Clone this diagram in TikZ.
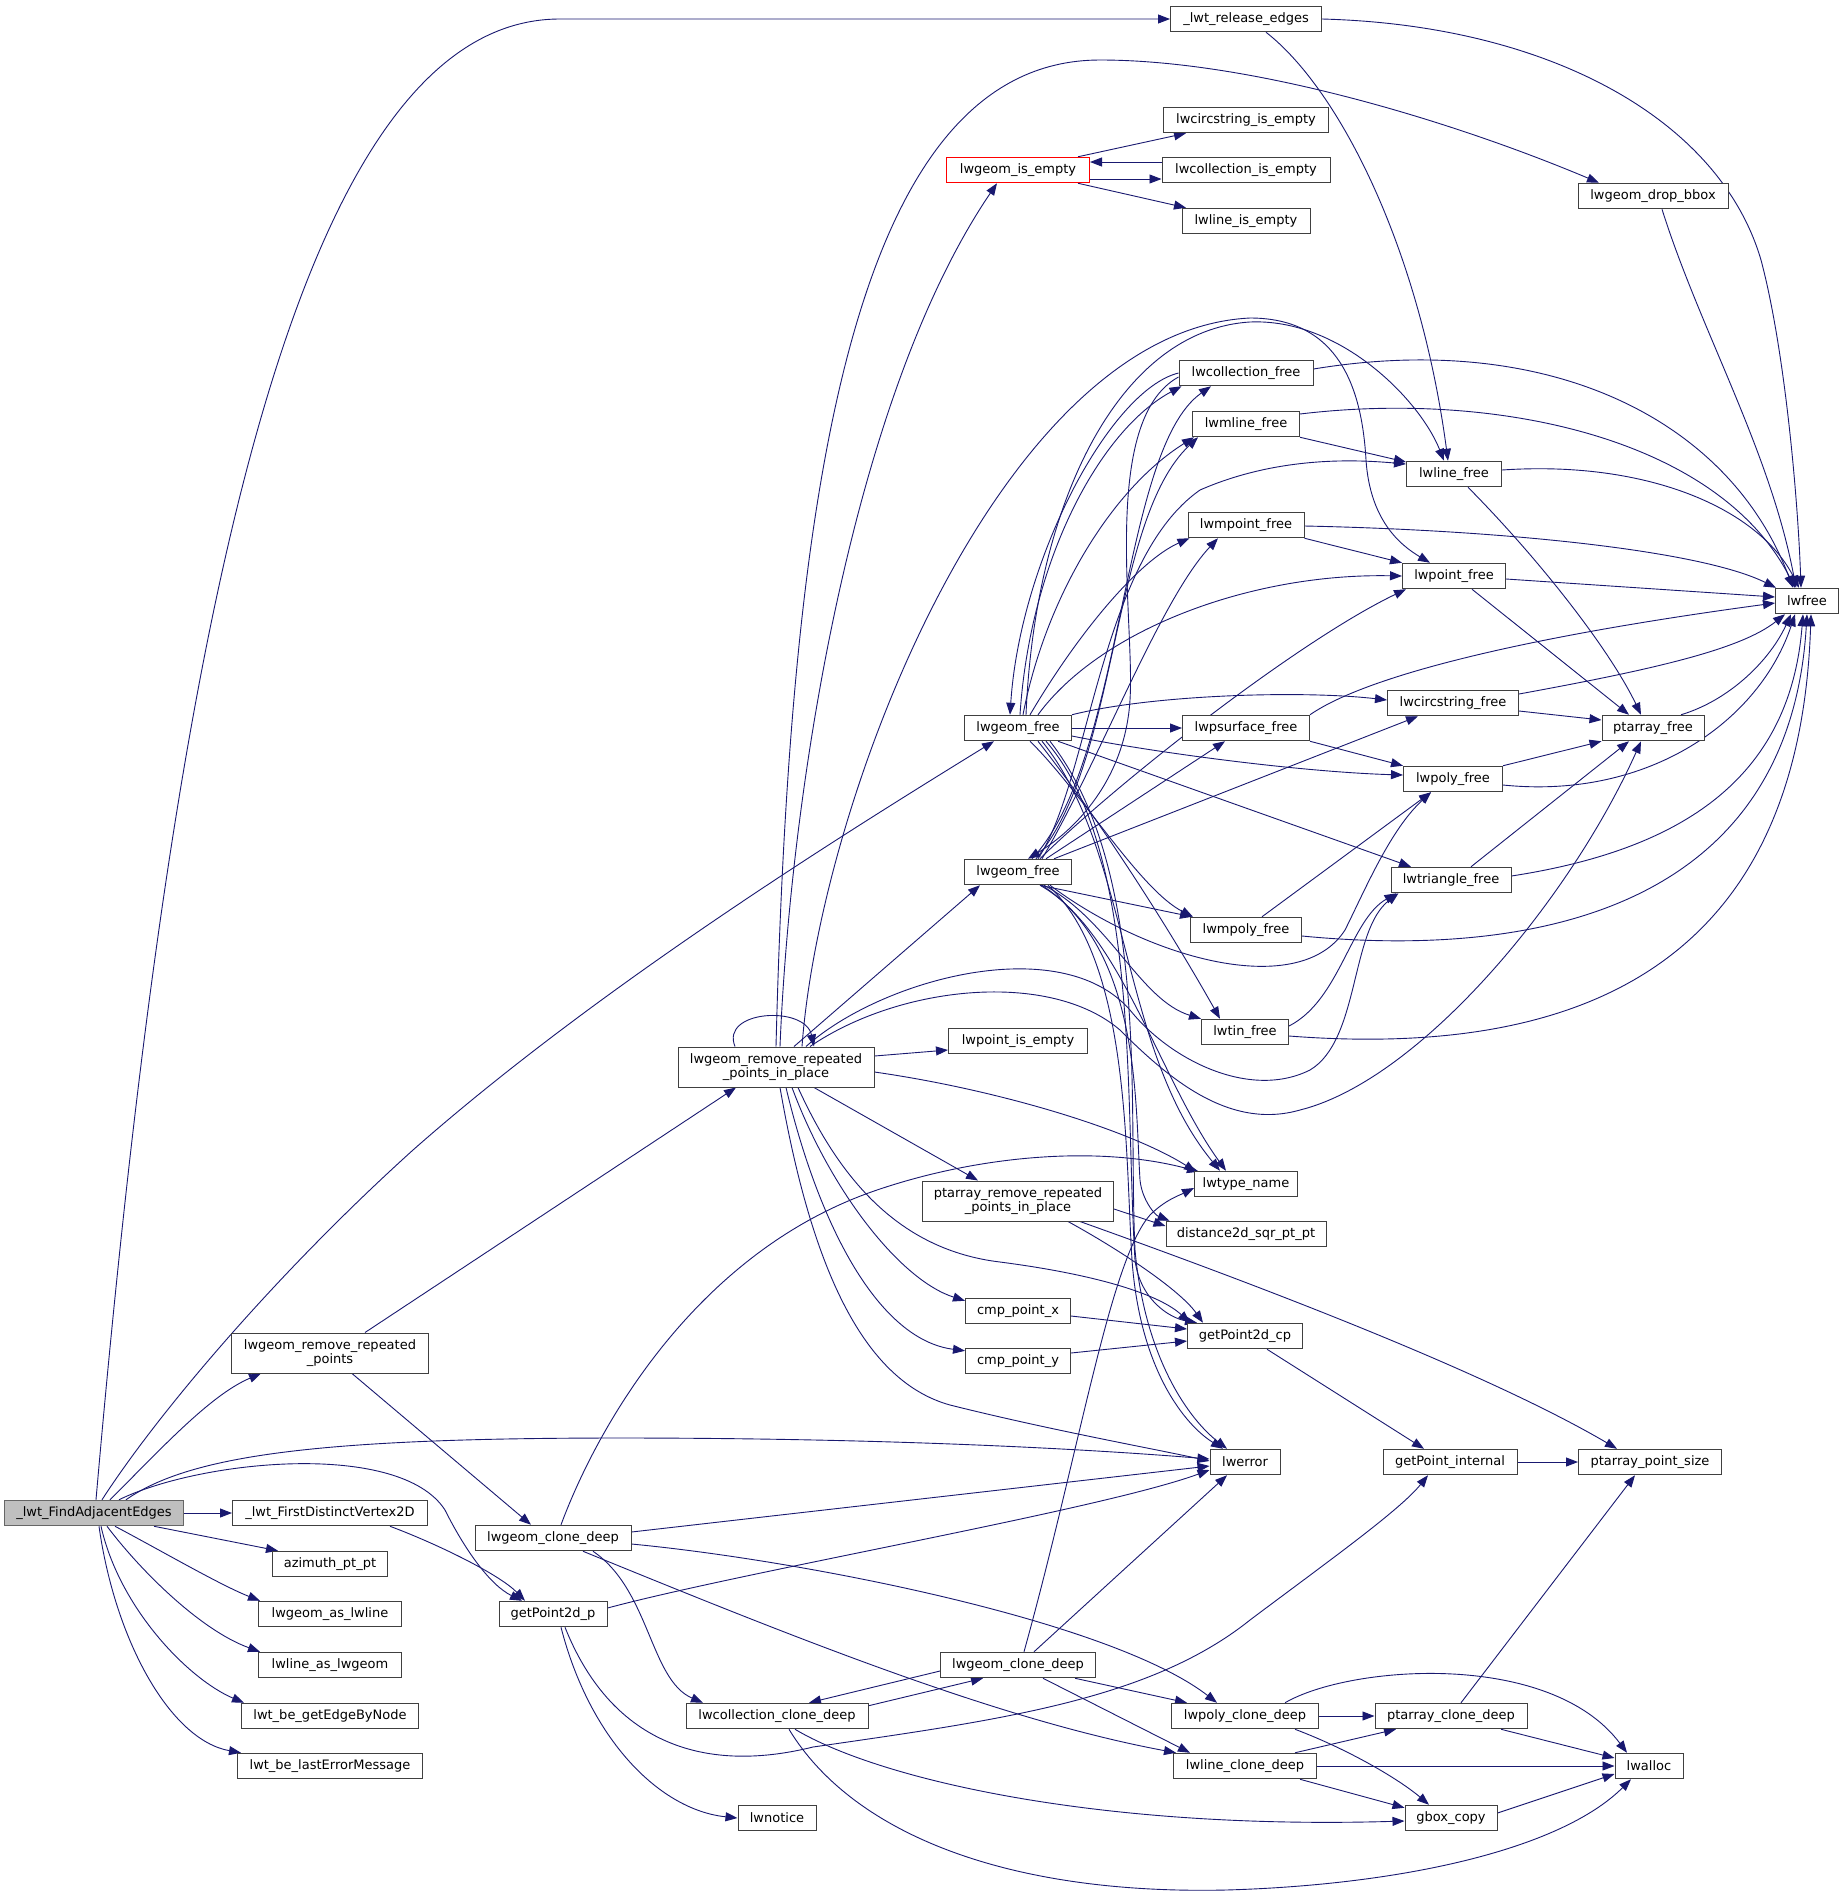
\documentclass[tikz,border=0pt]{standalone}
\usepackage{fontspec}
\setmainfont{DejaVu Sans}
\usetikzlibrary{arrows.meta,calc}
\definecolor{edgec}{HTML}{191970}
\definecolor{nodec}{HTML}{404040}
\definecolor{faec}{HTML}{BFBFBF}
\definecolor{faeb}{HTML}{666666}
\pgfdeclarelayer{bg}
\pgfsetlayers{bg,main}
\begin{document}
\begin{tikzpicture}[x=1pt,y=-1pt,
 box/.style={draw=nodec, line width=1pt, fill=white, minimum height=25.5pt, inner xsep=2pt, inner ysep=1pt, font=\fontsize{13}{14.5}\selectfont, text=black},
 boxtwo/.style={box, align=center, minimum height=40pt},
 cg/.style={draw=edgec, line width=0.9pt, -{Triangle[length=12pt,width=9pt]}},
]
\begin{pgfonlayer}{bg}
\fill[white] (0,0) rectangle (1840,1899);
\end{pgfonlayer}
\useasboundingbox (0,0) rectangle (1840,1899);

% column 0/1
\node[box, fill=faec, draw=faeb, minimum width=179pt] (fae) at (94,1513) {\_lwt\_FindAdjacentEdges};
\node[box, minimum width=195pt] (fdv) at (330,1513) {\_lwt\_FirstDistinctVertex2D};
\node[box, minimum width=115pt] (az) at (330,1564) {azimuth\_pt\_pt};
\node[box, minimum width=143pt] (asl) at (330,1614) {lwgeom\_as\_lwline};
\node[box, minimum width=143pt] (las) at (330,1665) {lwline\_as\_lwgeom};
\node[box, minimum width=177pt] (gebn) at (330,1716) {lwt\_be\_getEdgeByNode};
\node[box, minimum width=185pt] (lem) at (330,1766) {lwt\_be\_lastErrorMessage};
\node[boxtwo, minimum width=197pt] (rrp) at (330,1353) {lwgeom\_remove\_repeated\\\_points};
% column 2/3
\node[box, minimum width=156pt] (lcd1) at (553,1538) {lwgeom\_clone\_deep};
\node[box, minimum width=108pt] (gp) at (553,1614) {getPoint2d\_p};
\node[boxtwo, minimum width=196pt] (rrpip) at (776,1067) {lwgeom\_remove\_repeated\\\_points\_in\_place};
\node[box, minimum width=182pt] (lccd) at (777,1716) {lwcollection\_clone\_deep};
\node[box, minimum width=78pt] (ntc) at (777,1818) {lwnotice};
% column 4
\node[box, draw=red, minimum width=143pt] (ise) at (1018,170) {lwgeom\_is\_empty};
\node[box, minimum width=107pt] (g1) at (1018,728) {lwgeom\_free};
\node[box, minimum width=107pt] (g2) at (1018,872) {lwgeom\_free};
\node[box, minimum width=139pt] (pie) at (1018,1041) {lwpoint\_is\_empty};
\node[boxtwo, minimum width=191pt] (prr) at (1018,1201) {ptarray\_remove\_repeated\\\_points\_in\_place};
\node[box, minimum width=105pt] (cpx) at (1018,1311) {cmp\_point\_x};
\node[box, minimum width=105pt] (cpy) at (1018,1361) {cmp\_point\_y};
\node[box, minimum width=155pt] (lcd2) at (1018,1665) {lwgeom\_clone\_deep};
% column 5
\node[box, minimum width=151pt] (rel) at (1246,19) {\_lwt\_release\_edges};
\node[box, minimum width=165pt] (cie) at (1246,120) {lwcircstring\_is\_empty};
\node[box, minimum width=168pt] (coe) at (1246,170) {lwcollection\_is\_empty};
\node[box, minimum width=128pt] (lie) at (1246,221) {lwline\_is\_empty};
\node[box, minimum width=134pt] (cfr) at (1246,373) {lwcollection\_free};
\node[box, minimum width=107pt] (mlf) at (1246,424) {lwmline\_free};
\node[box, minimum width=116pt] (mpf) at (1246,525) {lwmpoint\_free};
\node[box, minimum width=127pt] (psf) at (1246,728) {lwpsurface\_free};
\node[box, minimum width=111pt] (mpyf) at (1246,930) {lwmpoly\_free};
\node[box, minimum width=87pt] (tin) at (1245,1032) {lwtin\_free};
\node[box, minimum width=103pt] (tyn) at (1246,1184) {lwtype\_name};
\node[box, minimum width=160pt] (d2d) at (1246,1234) {distance2d\_sqr\_pt\_pt};
\node[box, minimum width=115pt] (gp2c) at (1245,1336) {getPoint2d\_cp};
\node[box, minimum width=70pt] (err) at (1245,1462) {lwerror};
\node[box, minimum width=147pt] (pcd) at (1245,1716) {lwpoly\_clone\_deep};
\node[box, minimum width=143pt] (lcdl) at (1245,1766) {lwline\_clone\_deep};
% column 6
\node[box, minimum width=95pt] (lfr) at (1454,474) {lwline\_free};
\node[box, minimum width=103pt] (ptf) at (1454,576) {lwpoint\_free};
\node[box, minimum width=131pt] (csf) at (1453,703) {lwcircstring\_free};
\node[box, minimum width=99pt] (pyf) at (1453,779) {lwpoly\_free};
\node[box, minimum width=120pt] (trf) at (1451,880) {lwtriangle\_free};
\node[box, minimum width=134pt] (gpi) at (1450,1462) {getPoint\_internal};
\node[box, minimum width=152pt] (pacd) at (1451,1716) {ptarray\_clone\_deep};
\node[box, minimum width=92pt] (gbx) at (1451,1818) {gbox\_copy};
% column 7/8
\node[box, minimum width=102pt] (paf) at (1653,728) {ptarray\_free};
\node[box, minimum width=150pt] (dbb) at (1653,196) {lwgeom\_drop\_bbox};
\node[box, minimum width=143pt] (pps) at (1650,1462) {ptarray\_point\_size};
\node[box, minimum width=68pt] (alc) at (1649,1766) {lwalloc};
\node[box, minimum width=63pt] (lwf) at (1807,601) {lwfree};

\begin{pgfonlayer}{bg}
% ---- _lwt_FindAdjacentEdges
\draw[cg] ([xshift=2pt]fae.north) .. controls (170,650) and (290,19) .. (560,19) -- (rel.west);
\draw[cg] ([xshift=8pt]fae.north) .. controls (160,1410) and (280,1270) .. (413,1150) .. controls (600,985) and (850,830) .. ([xshift=-24pt]g1.south);
\draw[cg] ([xshift=16pt]fae.north) .. controls (160,1450) and (210,1395) .. ([xshift=-69pt]rrp.south);
\draw[cg] ([xshift=32pt]fae.north) .. controls (190,1455) and (320,1438) .. (620,1438) .. controls (900,1438) and (1100,1450) .. ([yshift=3pt]err.west);
\draw[cg] ([xshift=25pt]fae.north) .. controls (200,1460) and (400,1440) .. (445,1510) .. controls (465,1550) and (490,1585) .. ([xshift=-31pt]gp.north);
\draw[cg] (fae.east) -- (fdv.west);
\draw[cg] ([xshift=60pt]fae.south) -- ([xshift=6pt]az.north west);
\draw[cg] ([xshift=21pt]fae.south) .. controls (160,1550) and (220,1585) .. ([xshift=2pt]asl.north west);
\draw[cg] ([xshift=13pt]fae.south) .. controls (140,1570) and (200,1630) .. ([xshift=2pt]las.north west);
\draw[cg] ([xshift=7pt]fae.south) .. controls (120,1610) and (190,1680) .. ([xshift=3pt]gebn.north west);
\draw[cg] ([xshift=5pt]fae.south) .. controls (115,1640) and (170,1740) .. ([xshift=4pt]lem.north west);
\draw[cg] ([xshift=60pt]fdv.south) .. controls (440,1545) and (500,1575) .. ([xshift=-28pt]gp.north);
\draw[cg] ([xshift=35pt]rrp.north) -- ([xshift=-40pt]rrpip.south);
\draw[cg] ([xshift=22pt]rrp.south) -- ([xshift=-22pt]lcd1.north);
% ---- lwgeom_clone_deep (1)
\draw[cg] ([xshift=8pt]lcd1.north) .. controls (600,1420) and (700,1250) .. (877,1190) .. controls (980,1155) and (1100,1145) .. ([xshift=5pt,yshift=-1pt]tyn.north west);
\draw[cg] ([yshift=6pt]lcd1.east) -- ([yshift=-4pt]err.west);
\draw[cg] ([yshift=-6pt]lcd1.east) .. controls (800,1560) and (1110,1620) .. ([xshift=-28pt]pcd.north);
\draw[cg] ([xshift=30pt]lcd1.south) .. controls (800,1640) and (1000,1720) .. ([xshift=3pt]lcdl.north west);
\draw[cg] ([xshift=40pt]lcd1.south) .. controls (650,1590) and (650,1680) .. ([xshift=-74pt]lccd.north);
% ---- getPoint2d_p
\draw[cg] ([yshift=6pt]gp.east) .. controls (750,1570) and (1100,1510) .. ([yshift=-8pt]err.west);
\draw[cg] ([xshift=8pt]gp.south) .. controls (590,1740) and (660,1810) .. (ntc.west);
\draw[cg] ([xshift=12pt]gp.south) .. controls (610,1740) and (700,1775) .. (813,1747) .. controls (1000,1720) and (1150,1700) .. (1250,1620) .. controls (1330,1560) and (1400,1510) .. ([xshift=-22pt]gpi.south);
% ---- lwgeom_remove_repeated_points_in_place
\draw[cg] ([xshift=-41pt]rrpip.north) .. controls (720,1010) and (805,1005) .. ([xshift=38pt]rrpip.north);
\draw[cg] ([xshift=4pt]rrpip.north) .. controls (790,800) and (850,400) .. ([xshift=-21pt]ise.south);
\draw[cg] (rrpip.north) .. controls (790,500) and (850,60) .. (1100,60) .. controls (1250,60) and (1450,120) .. ([xshift=-54pt]dbb.north);
\draw[cg] ([xshift=18pt]rrpip.north) -- ([xshift=-38pt]g2.south);
\draw[cg] ([xshift=26pt]rrpip.north) .. controls (820,800) and (1000,330) .. (1250,318) .. controls (1340,318) and (1362,390) .. (1366,460) .. controls (1370,520) and (1400,545) .. ([xshift=-24pt]ptf.north);
\draw[cg] ([xshift=30pt]rrpip.north) .. controls (880,980) and (1060,930) .. (1130,1010) .. controls (1170,1060) and (1250,1100) .. (1310,1070) .. controls (1360,1040) and (1350,930) .. ([xshift=8pt]trf.south west);
\draw[cg] ([xshift=34pt]rrpip.north) .. controls (900,985) and (1050,970) .. (1120,1030) .. controls (1170,1080) and (1230,1130) .. (1300,1110) .. controls (1420,1080) and (1570,900) .. ([xshift=-12pt]paf.south);
\draw[cg] ([yshift=11pt]rrpip.east) -- ([yshift=-9pt]pie.west);
\draw[cg] ([yshift=-5pt]rrpip.east) .. controls (1000,1090) and (1130,1130) .. ([xshift=2pt,yshift=-1pt]tyn.north west);
\draw[cg] ([xshift=38pt]rrpip.south) -- ([xshift=-40pt]prr.north);
\draw[cg] ([xshift=22pt]rrpip.south) .. controls (840,1180) and (900,1250) .. (1000,1262) .. controls (1100,1275) and (1160,1295) .. ([xshift=-55pt]gp2c.north);
\draw[cg] ([xshift=16pt]rrpip.south) .. controls (830,1190) and (900,1280) .. ([yshift=-3pt]cpx.north west);
\draw[cg] ([xshift=10pt]rrpip.south) .. controls (820,1230) and (880,1340) .. ([yshift=-3pt]cpy.north west);
\draw[cg] ([xshift=4pt]rrpip.south) .. controls (810,1260) and (860,1380) .. (950,1405) .. controls (1050,1430) and (1150,1448) .. ([yshift=1pt]err.west);
% ---- ptarray_remove_repeated_points_in_place and friends
\draw[cg] ([yshift=-8pt]prr.east) -- ([yshift=8pt]d2d.west);
\draw[cg] ([xshift=50pt]prr.south) .. controls (1120,1250) and (1180,1290) .. ([xshift=-42pt]gp2c.north);
\draw[cg] ([xshift=62pt]prr.south) .. controls (1300,1300) and (1500,1380) .. ([xshift=-33pt]pps.north);
\draw[cg] ([yshift=-5pt]cpx.east) -- ([yshift=7pt]gp2c.west);
\draw[cg] ([yshift=8pt]cpy.east) -- ([yshift=-5pt]gp2c.west);
\draw[cg] ([xshift=22pt]gp2c.south) -- ([xshift=-26pt]gpi.north);
\draw[cg] (gpi.east) -- (pps.west);
% ---- lwgeom_clone_deep (2)
\draw[cg] ([xshift=6pt]lcd2.north) .. controls (1080,1450) and (1110,1260) .. (1150,1215) .. controls (1165,1200) and (1180,1195) .. ([yshift=-4pt]tyn.west);
\draw[cg] ([xshift=16pt]lcd2.north) -- ([xshift=-18pt]err.south);
\draw[cg] ([yshift=-6pt]lcd2.west) -- ([xshift=32pt]lccd.north);
\draw[cg] ([yshift=-3pt]lccd.north east) -- ([xshift=-35pt]lcd2.south);
\draw[cg] ([xshift=57pt]lcd2.south) -- ([xshift=-58pt]pcd.north);
\draw[cg] ([xshift=25pt]lcd2.south) -- ([xshift=-55pt]lcdl.north);
\draw[cg] ([xshift=18pt]lccd.south) .. controls (880,1780) and (1100,1830) .. ([yshift=-3pt]gbx.west);
\draw[cg] ([xshift=12pt]lccd.south) .. controls (850,1830) and (1000,1895) .. (1226,1890) .. controls (1400,1885) and (1560,1850) .. ([xshift=-18pt]alc.south);
\draw[cg] (pcd.east) -- (pacd.west);
\draw[cg] ([xshift=40pt]pcd.north) .. controls (1350,1665) and (1550,1650) .. ([xshift=-22pt]alc.north);
\draw[cg] ([xshift=50pt]pcd.south) .. controls (1350,1750) and (1400,1780) .. ([xshift=-22pt]gbx.north);
\draw[cg] ([xshift=50pt]lcdl.north) -- ([xshift=-55pt]pacd.south);
\draw[cg] (lcdl.east) -- (alc.west);
\draw[cg] ([xshift=55pt]lcdl.south) -- ([yshift=-3pt]gbx.north west);
\draw[cg] ([xshift=10pt]pacd.north) -- ([xshift=-15pt]pps.south);
\draw[cg] ([xshift=50pt]pacd.south) -- ([yshift=8pt]alc.west);
\draw[cg] ([yshift=5pt]gbx.east) -- ([yshift=-8pt]alc.west);
% ---- lwgeom_is_empty
\draw[cg] ([xshift=60pt]ise.north) -- ([xshift=-60pt]cie.south);
\draw[cg] ([yshift=-9pt]ise.east) -- ([yshift=-9pt]coe.west);
\draw[cg] ([yshift=8pt]coe.west) -- ([yshift=8pt]ise.east);
\draw[cg] ([xshift=60pt]ise.south) -- ([xshift=-60pt]lie.north);
% ---- _lwt_release_edges, drop_bbox
\draw[cg] ([xshift=20pt]rel.south) .. controls (1340,90) and (1420,250) .. ([xshift=-6pt]lfr.north);
\draw[cg] (rel.east) .. controls (1550,25) and (1720,120) .. (1761,260) .. controls (1785,350) and (1798,500) .. ([xshift=-6pt]lwf.north);
\draw[cg] ([xshift=9pt]dbb.south) .. controls (1700,330) and (1770,450) .. ([xshift=-11pt]lwf.north);
% ---- lwgeom_free (1)
\draw[cg] ([xshift=2pt]g1.north) .. controls (1030,560) and (1100,430) .. ([xshift=3pt]cfr.south west);
\draw[cg] (cfr.west) .. controls (1110,390) and (1020,560) .. ([xshift=-8pt]g1.north);
\draw[cg] ([xshift=5pt]g1.north) .. controls (1045,600) and (1110,490) .. ([xshift=2pt]mlf.south west);
\draw[cg] ([xshift=12pt]g1.north) .. controls (1080,630) and (1140,560) .. ([xshift=2pt]mpf.south west);
\draw[cg] ([xshift=20pt]g1.north) .. controls (1100,630) and (1250,573) .. (ptf.west);
\draw[cg] ([xshift=8pt]g1.north) .. controls (1035,500) and (1120,330) .. (1250,322) .. controls (1340,318) and (1420,400) .. ([xshift=-10pt]lfr.north);
\draw[cg] (g1.north east) .. controls (1150,695) and (1300,690) .. ([yshift=3pt]csf.west);
\draw[cg] (g1.east) -- (psf.west);
\draw[cg] ([yshift=-8pt]g1.east) .. controls (1150,752) and (1300,772) .. ([yshift=4pt]pyf.west);
\draw[cg] ([xshift=40pt]g1.south) -- ([xshift=-40pt]trf.north);
\draw[cg] ([xshift=12pt]g1.south) .. controls (1080,790) and (1140,890) .. ([xshift=3pt]mpyf.north west);
\draw[cg] ([xshift=20pt]g1.south) .. controls (1100,820) and (1170,930) .. ([xshift=-25pt]tin.north);
\draw[cg] ([xshift=24pt]g1.south) .. controls (1130,850) and (1120,1050) .. ([xshift=-26pt]tyn.north);
\draw[cg] ([xshift=28pt]g1.south) .. controls (1140,850) and (1125,1100) .. (1135,1260) .. controls (1140,1300) and (1170,1318) .. ([xshift=-48pt]gp2c.north);
\draw[cg] ([xshift=32pt]g1.south) .. controls (1150,870) and (1128,1100) .. (1135,1250) .. controls (1145,1360) and (1190,1420) .. ([xshift=-18pt]err.north);
% ---- lwgeom_free (2)
\draw[cg] ([xshift=14pt]g2.north) .. controls (1125,760) and (1120,450) .. ([xshift=-35pt]cfr.south);
\draw[cg] ([yshift=-4pt]cfr.west) .. controls (1100,420) and (1135,620) .. (1130,700) .. controls (1125,780) and (1075,830) .. ([xshift=10pt]g2.north);
\draw[cg] ([xshift=18pt]g2.north) .. controls (1120,760) and (1110,520) .. ([xshift=6pt]mlf.south west);
\draw[cg] ([xshift=24pt]g2.north) .. controls (1100,760) and (1160,600) .. ([xshift=-28pt]mpf.south);
\draw[cg] ([xshift=22pt]g2.north) .. controls (1120,780) and (1300,640) .. ([xshift=4pt]ptf.south west);
\draw[cg] ([xshift=20pt]g2.north) .. controls (1090,780) and (1100,560) .. (1200,490) .. controls (1280,455) and (1360,460) .. ([yshift=10pt]lfr.west);
\draw[cg] ([xshift=36pt]g2.north) -- ([xshift=-35pt]csf.south);
\draw[cg] ([xshift=28pt]g2.north) -- ([xshift=-21pt]psf.south);
\draw[cg] ([xshift=32pt]g2.south) .. controls (1150,960) and (1300,1000) .. (1345,930) .. controls (1365,890) and (1390,830) .. ([xshift=-22pt]pyf.south);
\draw[cg] ([xshift=22pt]g2.south) -- ([xshift=2pt]mpyf.north west);
\draw[cg] ([xshift=26pt]g2.south) .. controls (1110,920) and (1140,1000) .. (tin.north west);
\draw[cg] ([xshift=22pt]g2.south) .. controls (1120,930) and (1160,1080) .. ([xshift=-20pt]tyn.north);
\draw[cg] ([xshift=24pt]g2.south) .. controls (1140,950) and (1135,1100) .. (1140,1180) .. controls (1142,1200) and (1155,1215) .. ([xshift=4pt]d2d.north west);
\draw[cg] ([xshift=30pt]g2.south) .. controls (1130,960) and (1125,1150) .. (1132,1260) .. controls (1140,1370) and (1185,1425) .. ([xshift=-22pt]err.north);
% ---- free functions
\draw[cg] ([yshift=4pt]cfr.east) .. controls (1550,330) and (1730,420) .. ([xshift=-14pt]lwf.north);
\draw[cg] ([yshift=10pt]mlf.east) .. controls (1500,390) and (1720,440) .. ([xshift=-12pt]lwf.north);
\draw[cg] (mlf.south east) -- ([yshift=12pt]lfr.west);
\draw[cg] ([yshift=4pt]lfr.east) .. controls (1650,460) and (1760,510) .. ([xshift=-8pt]lwf.north);
\draw[cg] ([xshift=14pt]lfr.south) .. controls (1540,560) and (1610,650) .. ([xshift=-12pt]paf.north);
\draw[cg] ([yshift=-1pt]mpf.east) .. controls (1500,530) and (1700,550) .. ([xshift=1pt]lwf.north west);
\draw[cg] (mpf.south east) -- (ptf.north west);
\draw[cg] ([yshift=-3pt]ptf.east) -- ([yshift=4pt]lwf.west);
\draw[cg] ([xshift=18pt]ptf.south) -- ([xshift=-24pt]paf.north);
\draw[cg] ([yshift=9pt]csf.east) .. controls (1650,670) and (1740,650) .. ([xshift=-22pt]lwf.south);
\draw[cg] ([yshift=-8pt]csf.east) -- ([yshift=8pt]paf.west);
\draw[cg] (psf.north east) .. controls (1360,680) and (1500,640) .. ([yshift=-2pt]lwf.west);
\draw[cg] (psf.south east) -- (pyf.north west);
\draw[cg] (pyf.north east) -- (paf.south west);
\draw[cg] ([yshift=-6pt]pyf.east) .. controls (1650,800) and (1760,720) .. ([xshift=-12pt]lwf.south);
\draw[cg] ([xshift=20pt]trf.north) -- ([xshift=-24pt]paf.south);
\draw[cg] ([yshift=4pt]trf.east) .. controls (1680,850) and (1790,780) .. ([xshift=-4pt]lwf.south);
\draw[cg] ([xshift=16pt]mpyf.north) -- ([xshift=-22pt]pyf.south);
\draw[cg] ([yshift=-6pt]mpyf.east) .. controls (1550,960) and (1790,900) .. (lwf.south);
\draw[cg] ([yshift=6pt]tin.east) .. controls (1340,1000) and (1350,920) .. ([xshift=6pt]trf.south west);
\draw[cg] ([yshift=-4pt]tin.east) .. controls (1600,1060) and (1800,950) .. ([xshift=4pt]lwf.south);
\draw[cg] ([xshift=28pt]paf.north) .. controls (1730,700) and (1770,660) .. ([xshift=-16pt]lwf.south);
\end{pgfonlayer}
\end{tikzpicture}
\end{document}
